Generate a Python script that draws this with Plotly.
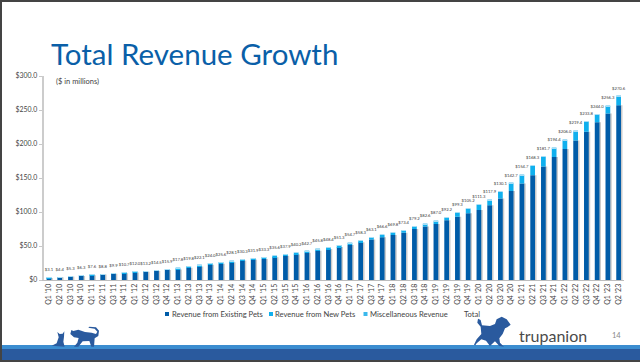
import plotly.graph_objects as go

quarters = ["Q1 '10","Q2 '10","Q3 '10","Q4 '10","Q1 '11","Q2 '11","Q3 '11","Q4 '11","Q1 '12","Q2 '12","Q3 '12","Q4 '12",
            "Q1 '13","Q2 '13","Q3 '13","Q4 '13","Q1 '14","Q2 '14","Q3 '14","Q4 '14","Q1 '15","Q2 '15","Q3 '15","Q4 '15",
            "Q1 '16","Q2 '16","Q3 '16","Q4 '16","Q1 '17","Q2 '17","Q3 '17","Q4 '17","Q1 '18","Q2 '18","Q3 '18","Q4 '18",
            "Q1 '19","Q2 '19","Q3 '19","Q4 '19","Q1 '20","Q2 '20","Q3 '20","Q4 '20","Q1 '21","Q2 '21","Q3 '21","Q4 '21",
            "Q1 '22","Q2 '22","Q3 '22","Q4 '22","Q1 '23","Q2 '23"]
total = [3.1,4.4,5.3,6.3,7.6,8.8,9.9,10.7,12.0,13.2,14.5,15.9,
         17.8,19.8,22.1,24.0,25.6,28.1,30.3,31.9,33.3,35.6,37.9,40.2,
         42.7,45.8,48.4,51.3,54.7,58.3,63.1,66.6,69.8,73.4,79.2,82.6,
         87.0,92.2,99.3,105.2,111.3,117.9,130.1,142.7,154.7,168.3,181.7,194.4,
         206.0,219.4,233.8,244.0,256.3,270.6]
existing = [2.9,4.1,5.0,5.9,7.1,8.2,9.3,10.0,11.2,12.3,13.4,14.7,
            15.6,18.0,20.0,22.5,24.0,26.0,28.5,30.0,31.0,33.5,35.5,37.5,
            40.0,43.0,45.5,48.5,51.5,55.5,59.5,63.0,66.0,69.5,75.0,78.5,
            82.5,88.0,93.0,98.0,103.0,110.0,120.0,131.0,142.0,154.0,167.0,181.0,
            192.5,205.0,218.0,232.0,245.0,257.0]
new_pets = [0.1,0.2,0.2,0.3,0.4,0.5,0.5,0.6,0.7,0.8,1.0,1.1,
            2.0,1.6,1.9,1.3,1.4,1.9,1.6,1.7,2.1,1.9,2.2,2.4,
            2.4,2.5,2.6,2.5,2.9,2.5,3.3,3.3,3.5,3.6,3.9,3.6,
            4.0,3.7,5.8,6.7,7.7,7.3,9.5,11.1,12.1,13.7,14.1,12.8,
            12.9,13.8,15.2,11.4,10.7,13.0]
misc = [0.1,0.1,0.1,0.1,0.1,0.1,0.1,0.1,0.1,0.1,0.1,0.1,
        0.2,0.2,0.2,0.2,0.2,0.2,0.2,0.2,0.2,0.2,0.2,0.3,
        0.3,0.3,0.3,0.3,0.3,0.3,0.3,0.3,0.3,0.3,0.3,0.5,
        0.5,0.5,0.5,0.5,0.6,0.6,0.6,0.6,0.6,0.6,0.6,0.6,
        0.6,0.6,0.6,0.6,0.6,0.6]
y_ticks = [0,50,100,150,200,250,300]
y_tick_labels = ["$0","$50.0","$100.0","$150.0","$200.0","$250.0","$300.0"]
legend_items = ["Revenue from Existing Pets","Revenue from New Pets","Miscellaneous Revenue","Total"]

W, H = 640, 362
DARK, CYAN, PALE = "#005ca8", "#10b0ee", "#a8def5"
TEXT = "#444444"
FONT = "Lato, 'Open Sans', sans-serif"
px = lambda x: x / W
py = lambda y: 1 - y / H

fig = go.Figure()
fig.add_bar(x=quarters, y=existing, name="Shadow", marker_color="#cbcbcb", marker_line_width=0,
            width=0.46, offset=-0.1, showlegend=False, hoverinfo="skip")
fig.add_bar(x=quarters, y=existing, name=legend_items[0], marker_color=DARK, marker_line_width=0,
            width=0.44, offset=-0.22, showlegend=False)
fig.add_bar(x=quarters, y=new_pets, base=existing, name=legend_items[1], marker_color=CYAN, marker_line_width=0,
            width=0.44, offset=-0.22, showlegend=False)
base_misc = [e + n for e, n in zip(existing, new_pets)]
fig.add_bar(x=quarters, y=misc, base=base_misc, name=legend_items[2], marker_color=PALE, marker_line_width=0,
            width=0.44, offset=-0.22, showlegend=False)
fig.add_scatter(x=quarters, y=total, mode="markers+text", name=legend_items[3], showlegend=False,
                marker=dict(size=7, opacity=0),
                text=[f"${v:.1f}" for v in total], textposition="top center",
                textfont=dict(size=4.2, color="#3a3a3a", family=FONT), cliponaxis=False)

def rect(x0, y0, x1, y1, color):
    return dict(type="rect", xref="paper", yref="paper", x0=px(x0), x1=px(x1), y0=py(y1), y1=py(y0),
                fillcolor=color, line_width=0, layer="below")

def poly(points, color, zx=0, zy=180):
    d = "M" + " L".join(f"{px(zx + a / 3):.4f},{py(zy + b / 3):.4f}" for a, b in points) + " Z"
    return dict(type="path", xref="paper", yref="paper", path=d, fillcolor=color, line_width=0, layer="above")

PET = "#2a5a9e"
sit_cat = [(155,497),(170,490),(176,472),(172,456),(179,462),(188,461),(193,454),(192,470),(190,485),(194,500)]
walk_cat = [(211,462),(214,450),(220,453),(235,449),(255,456),(275,458),(288,462),(292,455),(284,446),(265,443),(268,440),
            (288,442),(297,452),(295,468),(284,475),(282,500),(274,500),(268,483),(248,484),(235,500),(222,500),(232,488),(236,474),(222,472)]
dog = [(462,494),(470,478),(484,462),(482,440),(472,428),(474,416),(482,420),(486,436),(510,438),(525,432),(530,418),(545,410),(560,418),
       (572,434),(562,442),(555,445),(548,462),(538,475),(540,488),(552,500),(538,498),(525,484),(510,498),(498,482),(484,478),(470,490),(466,496)]

shapes = [
    rect(0, 0, 640, 2, "#444444"),
    rect(0, 0, 2, 362, "#444444"),
    rect(2, 345, 640, 349, "#3b8dd0"),
    rect(2, 349, 640, 360, PET),
    rect(0, 360, 640, 362, "#444444"),
    rect(165, 312, 169, 316, DARK),
    rect(269, 312, 273, 316, CYAN),
    rect(363.5, 312, 367.5, 316, "#3ab8ec"),
    poly(sit_cat, PET),
    poly(walk_cat, PET),
    poly(dog, PET, zx=320),
]

def note(x, y, text, size, color=TEXT, family=FONT, **kw):
    return dict(xref="paper", yref="paper", x=px(x), y=py(y), text=text, showarrow=False, xanchor="left", yanchor="middle",
                font=dict(size=size, color=color, family=family), **kw)

annotations = [
    note(49, 54, "Total Revenue Growth", 29.5, color="#0a5fa8", family="Lato, sans-serif"),
    note(54, 82, "($ in millions)", 7.5),
    note(170, 314, legend_items[0], 7.6),
    note(273, 314, legend_items[1], 7.6),
    note(368, 314, legend_items[2], 7.6),
    note(462, 314, legend_items[3], 7.6),
    note(517, 335, "trupanion", 16, color="#4a4a4a"),
    note(610, 335, "14", 7.5, color="#888888"),
]

fig.update_layout(
    width=W, height=H, margin=dict(l=0, r=0, t=0, b=0, autoexpand=False), paper_bgcolor="white", plot_bgcolor="white",
    barmode="overlay", showlegend=False, shapes=shapes, annotations=annotations, font=dict(family=FONT, color=TEXT),
    xaxis=dict(domain=[px(43.6), px(624)], type="category", range=[-0.5, 53.5], tickangle=-90, showgrid=False, automargin=False,
               tickfont=dict(size=7, color=TEXT), ticks="", showline=True, linecolor="#bdbdbd", linewidth=1,
               tickmode="array", tickvals=quarters, ticktext=quarters, fixedrange=True),
    yaxis=dict(domain=[py(280), py(76)], range=[0, 300], tickvals=y_ticks, ticktext=y_tick_labels, showgrid=False, zeroline=False, automargin=False,
               ticks="outside", ticklen=3, tickcolor="#c8c8c8", showline=True, linecolor="#cccccc", linewidth=2,
               tickfont=dict(size=6.9, color=TEXT), fixedrange=True),
)
fig.write_html("out.html", config={"displayModeBar": False}, post_script="document.body.style.margin='0';")
